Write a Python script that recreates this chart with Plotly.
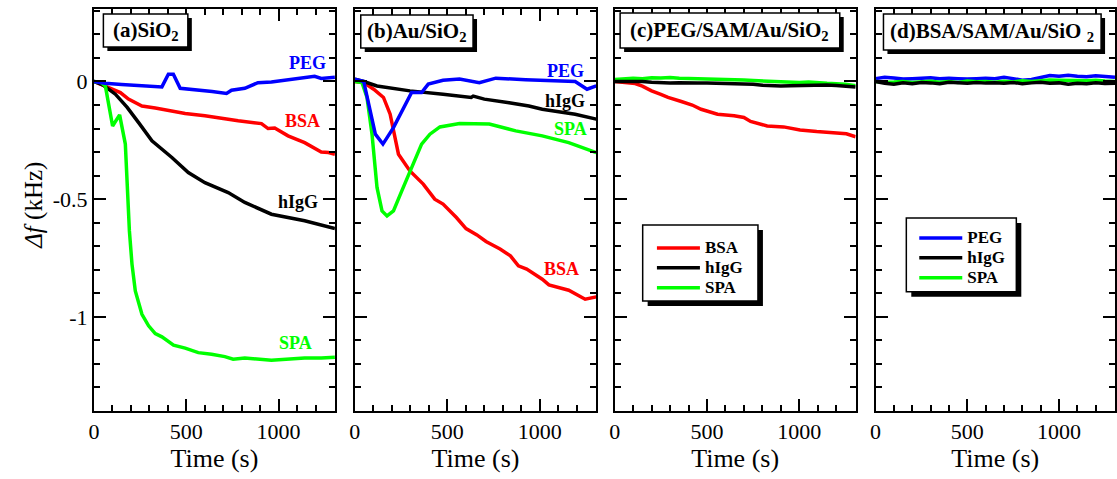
import plotly.graph_objects as go

W, H = 1117, 479

# ---------------- data (time in s, delta f in kHz) ----------------
# (a) SiO2
a_peg_t = [0, 60, 150, 250, 368, 403, 430, 467, 550, 640, 718, 745, 817, 888, 961, 1015, 1069, 1141, 1195, 1231, 1267, 1305]
a_peg_f = [0, -0.008, -0.013, -0.016, -0.023, 0.031, 0.031, -0.029, -0.035, -0.043, -0.051, -0.037, -0.029, -0.005, -0.002, 0.004, 0.008, 0.018, 0.022, 0.013, 0.015, 0.018]
a_bsa_t = [0, 62, 143, 187, 260, 332, 422, 494, 601, 700, 781, 907, 943, 979, 1051, 1141, 1231, 1270, 1305]
a_bsa_f = [0, -0.019, -0.047, -0.075, -0.104, -0.113, -0.125, -0.136, -0.146, -0.158, -0.167, -0.179, -0.2, -0.198, -0.231, -0.26, -0.3, -0.302, -0.309]
a_igg_t = [0, 50, 116, 180, 242, 314, 422, 511, 601, 727, 817, 961, 1141, 1305]
a_igg_f = [0, -0.015, -0.054, -0.11, -0.175, -0.252, -0.323, -0.387, -0.43, -0.472, -0.514, -0.564, -0.592, -0.625]
a_spa_t = [0, 40, 62, 101, 139, 170, 192, 206, 224, 260, 296, 332, 368, 431, 494, 565, 637, 709, 754, 817, 961, 1051, 1141, 1231, 1305]
a_spa_f = [0, -0.005, -0.02, -0.189, -0.142, -0.266, -0.635, -0.776, -0.89, -0.989, -1.038, -1.071, -1.085, -1.12, -1.133, -1.152, -1.159, -1.169, -1.18, -1.175, -1.184, -1.18, -1.175, -1.175, -1.172]

# (b) Au/SiO2
b_peg_t = [0, 48, 111, 152, 209, 307, 361, 397, 477, 566, 673, 762, 923, 1100, 1191, 1255, 1305]
b_peg_f = [0.01, 0.0, -0.224, -0.266, -0.196, -0.047, -0.047, -0.011, 0.005, 0.01, -0.005, 0.014, 0.007, 0.004, 0.0, -0.033, -0.019]
b_igg_t = [0, 48, 120, 298, 477, 629, 640, 700, 834, 941, 1013, 1191, 1305]
b_igg_f = [0.01, 0.0, -0.019, -0.04, -0.054, -0.068, -0.062, -0.075, -0.09, -0.104, -0.118, -0.139, -0.16]
b_spa_t = [0, 39, 66, 93, 120, 147, 174, 209, 254, 298, 361, 406, 460, 566, 727, 870, 1013, 1156, 1305]
b_spa_f = [0.0, -0.005, -0.068, -0.224, -0.45, -0.55, -0.571, -0.55, -0.465, -0.38, -0.266, -0.224, -0.193, -0.179, -0.181, -0.21, -0.231, -0.26, -0.302]
b_bsa_t = [0, 48, 102, 155, 191, 218, 236, 298, 370, 432, 477, 549, 601, 660, 709, 785, 841, 884, 929, 1013, 1049, 1156, 1245, 1305]
b_bsa_f = [0, -0.005, -0.033, -0.068, -0.139, -0.238, -0.309, -0.38, -0.436, -0.5, -0.521, -0.578, -0.625, -0.652, -0.68, -0.712, -0.741, -0.783, -0.797, -0.84, -0.864, -0.887, -0.925, -0.915]

# (c) PEG/SAM/Au/SiO2
c_bsa_t = [0, 50, 111, 150, 200, 250, 289, 361, 420, 468, 557, 647, 700, 736, 826, 915, 1004, 1094, 1183, 1255, 1305]
c_bsa_f = [0, -0.003, -0.009, -0.02, -0.04, -0.055, -0.068, -0.085, -0.1, -0.118, -0.139, -0.146, -0.153, -0.17, -0.189, -0.193, -0.206, -0.213, -0.22, -0.222, -0.235]
cd_t = [0, 50, 100, 150, 200, 250, 300, 350, 400, 450, 500, 550, 600, 650, 700,
        750, 800, 850, 900, 950, 1000, 1050, 1100, 1150, 1200, 1250, 1305]
c_spa_f = [0.008, 0.012, 0.014, 0.012, 0.016, 0.015, 0.017, 0.014, 0.012, 0.012, 0.01, 0.009, 0.008, 0.008,
           0.006, 0.004, 0.002, 0.001, -0.002, -0.003, -0.004, -0.002, -0.006, -0.008, -0.01, -0.012, -0.018]
c_igg_f = [0.0, 0.0, 0.002, 0.0, -0.003, -0.005, -0.006, -0.005, -0.004, -0.006, -0.006, -0.007, -0.008, -0.007,
           -0.01, -0.012, -0.016, -0.018, -0.019, -0.018, -0.017, -0.018, -0.016, -0.015, -0.017, -0.02, -0.023]

# (d) BSA/SAM/Au/SiO2
d_peg_f = [0.012, 0.018, 0.015, 0.01, 0.012, 0.014, 0.016, 0.012, 0.014, 0.012, 0.01, 0.012, 0.014, 0.012,
           0.018, 0.012, 0.005, 0.008, 0.015, 0.025, 0.022, 0.026, 0.022, 0.02, 0.024, 0.02, 0.018]
d_spa_f = [0, -0.003, -0.002, 0.0, -0.004, -0.002, 0.001, -0.003, 0.0, -0.004, 0.002, -0.001, 0.0, -0.003,
           0.001, -0.002, 0.003, 0.0, 0.004, 0.006, 0.005, 0.006, 0.004, 0.003, 0.005, 0.002, 0.0]
d_igg_f = [0, -0.008, -0.012, -0.006, -0.01, -0.004, -0.006, -0.01, -0.003, -0.006, -0.008, -0.004, -0.007, -0.005,
           -0.008, -0.004, -0.01, -0.006, -0.003, -0.008, -0.006, -0.012, -0.008, -0.01, -0.006, -0.009, -0.008]

panel_titles = ["(a)SiO<sub>2</sub>", "(b)Au/SiO<sub>2</sub>",
                "(c)PEG/SAM/Au/SiO<sub>2</sub>", "(d)BSA/SAM/Au/SiO <sub>2</sub>"]
x_ticks = [0, 500, 1000]
y_tickvals = [0, -0.5, -1]
y_ticktext = ["0", "-0.5", "-1"]
x_range = [0, 1305]
y_range = [-1.4, 0.31]

RED, BLUE, GREEN, BLACK = "#ff0000", "#0000ff", "#00ff00", "#000000"
SERIF = "Liberation Serif, Times New Roman, Tinos, serif"

# ---------------- layout helpers ----------------
def px(x):
    return x / W

def py(y):
    return 1 - y / H

panels_px = [(88.5, 331), (351, 594), (612.5, 855), (875, 1116)]
y_dom = [py(411), py(8.5)]

fig = go.Figure()

def legend_name(s):
    return "<b><span style='font-size:17px'>" + s + "</span></b>"

def add(x, y, color, i, name=None, legend=None, rank=1000):
    sfx = "" if i == 1 else str(i)
    fig.add_trace(go.Scatter(
        x=x, y=y, mode="lines", line=dict(color=color, width=3.5),
        xaxis="x" + sfx, yaxis="y" + sfx, name=legend_name(name) if name else None,
        showlegend=legend is not None, legend=legend if legend else "legend",
        legendrank=rank, hoverinfo="skip"))

add(a_bsa_t, a_bsa_f, RED, 1)
add(a_igg_t, a_igg_f, BLACK, 1)
add(a_spa_t, a_spa_f, GREEN, 1)
add(a_peg_t, a_peg_f, BLUE, 1)

add(b_bsa_t, b_bsa_f, RED, 2)
add(b_igg_t, b_igg_f, BLACK, 2)
add(b_spa_t, b_spa_f, GREEN, 2)
add(b_peg_t, b_peg_f, BLUE, 2)

add(c_bsa_t, c_bsa_f, RED, 3, "BSA", "legend", 1)
add(cd_t, c_spa_f, GREEN, 3, "SPA", "legend", 3)
add(cd_t, c_igg_f, BLACK, 3, "hIgG", "legend", 2)

add(cd_t, d_peg_f, BLUE, 4, "PEG", "legend2", 1)
add(cd_t, d_spa_f, GREEN, 4, "SPA", "legend2", 3)
add(cd_t, d_igg_f, BLACK, 4, "hIgG", "legend2", 2)

layout = dict(
    width=W, height=H, margin=dict(l=0, r=0, t=0, b=0),
    paper_bgcolor="white", plot_bgcolor="white",
    font=dict(family=SERIF, color="black"),
)

for i, (l, r) in enumerate(panels_px, start=1):
    sfx = "" if i == 1 else str(i)
    layout["xaxis" + sfx] = dict(
        domain=[px(l), px(r)], anchor="y" + sfx, range=x_range,
        tickmode="array", tickvals=x_ticks, ticktext=[str(v) for v in x_ticks],
        ticks="inside", ticklen=12, tickwidth=1.5, tickcolor="black",
        minor=dict(tickmode="linear", tick0=0, dtick=100, ticks="inside", ticklen=6,
                   tickwidth=1.5, tickcolor="black", showgrid=False),
        showline=True, linewidth=2, linecolor="black", mirror="ticks",
        showgrid=False, zeroline=False,
        tickfont=dict(family=SERIF, size=22, color="black"),
        title=dict(text="Time (s)", font=dict(family=SERIF, size=26, color="black"), standoff=0),
    )
    layout["yaxis" + sfx] = dict(
        domain=y_dom, anchor="x" + sfx, range=y_range,
        tickmode="array", tickvals=y_tickvals, ticktext=y_ticktext,
        showticklabels=(i == 1),
        ticks="inside", ticklen=12, tickwidth=1.5, tickcolor="black",
        minor=dict(tickmode="linear", tick0=0, dtick=0.1, ticks="inside", ticklen=6,
                   tickwidth=1.5, tickcolor="black", showgrid=False),
        showline=True, linewidth=2, linecolor="black", mirror="ticks",
        showgrid=False, zeroline=False,
        tickfont=dict(family=SERIF, size=22, color="black"),
    )

legend_font = dict(family=SERIF, size=13, color="black")
layout["legend"] = dict(x=px(650), y=py(233), xanchor="left", yanchor="top",
                        bgcolor="rgba(0,0,0,0)", borderwidth=0, font=legend_font,
                        itemwidth=43, tracegroupgap=0)
layout["legend2"] = dict(x=px(914), y=py(223), xanchor="left", yanchor="top",
                         bgcolor="rgba(0,0,0,0)", borderwidth=0, font=legend_font,
                         itemwidth=43, tracegroupgap=0)

shapes = []
annotations = []

def boxed(x0, y0, x1, y1, off=4):
    shapes.append(dict(type="rect", xref="paper", yref="paper", layer="above",
                       x0=px(x0 + off), x1=px(x1 + off), y0=py(y0 + off), y1=py(y1 + off),
                       fillcolor="black", line=dict(width=0)))
    shapes.append(dict(type="rect", xref="paper", yref="paper", layer="above",
                       x0=px(x0), x1=px(x1), y0=py(y0), y1=py(y1),
                       fillcolor="white", line=dict(color="black", width=1.5)))

title_boxes = [(98, 14, 183, 47), (357, 15, 470, 48), (618, 13, 839, 48), (883, 14, 1102, 50)]
for (x0, y0, x1, y1), txt in zip(title_boxes, panel_titles):
    boxed(x0, y0, x1, y1)
    annotations.append(dict(text="<b>" + txt + "</b>", xref="paper", yref="paper",
                            x=px((x0 + x1) / 2), y=py((y0 + y1) / 2), xanchor="center", yanchor="middle",
                            showarrow=False, font=dict(family=SERIF, size=21, color="black")))

# legend frames
boxed(640.7, 225, 756.7, 301, off=5)
boxed(906, 218, 1016.7, 291.7, off=5)

# curve labels (data coordinates)
curve_labels = [
    ("x", "y", 1157, 0.079, "PEG", BLUE),
    ("x", "y", 1130, -0.167, "BSA", RED),
    ("x", "y", 1103, -0.511, "hIgG", BLACK),
    ("x", "y", 1092, -1.11, "SPA", GREEN),
    ("x2", "y2", 1136, 0.045, "PEG", BLUE),
    ("x2", "y2", 1136, -0.082, "hIgG", BLACK),
    ("x2", "y2", 1163, -0.2, "SPA", GREEN),
    ("x2", "y2", 1115, -0.796, "BSA", RED),
]
for xr, yr, xv, yv, txt, col in curve_labels:
    annotations.append(dict(text="<b>" + txt + "</b>", xref=xr, yref=yr, x=xv, y=yv,
                            showarrow=False, xanchor="center", yanchor="middle",
                            font=dict(family=SERIF, size=18, color=col)))

annotations.append(dict(text="<i>Δf</i> (kHz)", xref="paper", yref="paper",
                        x=px(28), y=py(205), textangle=-90, showarrow=False,
                        xanchor="center", yanchor="middle",
                        font=dict(family=SERIF, size=25, color="black")))

layout["shapes"] = shapes
layout["annotations"] = annotations
fig.update_layout(**layout)
fig.write_html("out.html")
